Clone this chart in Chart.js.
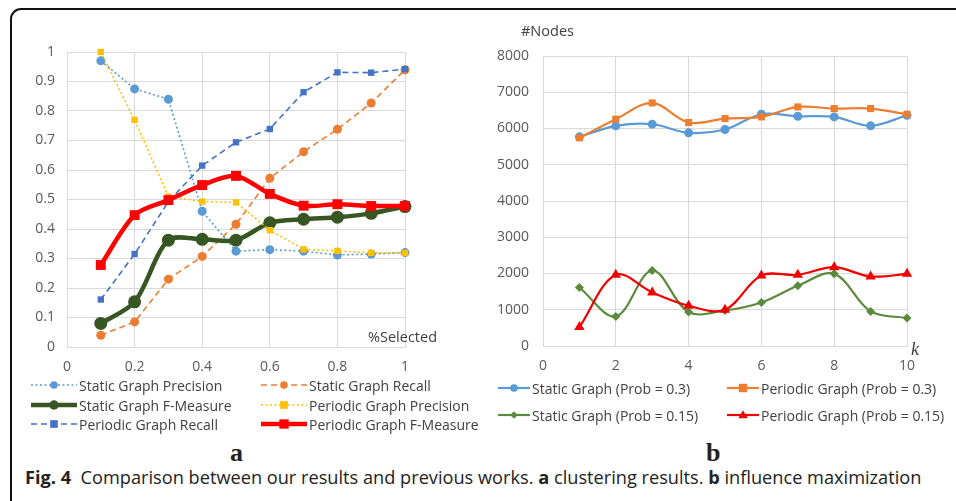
<!DOCTYPE html>
<html>
<head>
<meta charset="utf-8">
<script src="https://cdn.jsdelivr.net/npm/chart.js@4/dist/chart.umd.min.js"></script>
<style>
  html, body { margin: 0; padding: 0; background: #fff; }
  body { width: 956px; height: 501px; position: relative; overflow: hidden; font-family: "Open Sans", "Noto Sans", sans-serif; }
  .frame { position: absolute; left: 10px; top: 8px; width: 1000px; height: 600px; border: 2px solid #111; border-top-left-radius: 11px; box-sizing: border-box; }
  .cv { position: absolute; top: 0; }
  .lbl { position: absolute; color: #404040; white-space: nowrap; line-height: 1; }
  .legend { position: absolute; font-size: 14px; color: #404040; }
  .legend .item { position: absolute; display: flex; align-items: center; white-space: nowrap; height: 18px; }
  .legend svg { display: block; margin-right: 2px; }
  .panel { position: absolute; font-family: "Liberation Serif", "DejaVu Serif", serif; font-weight: bold; font-size: 26px; color: #222; line-height: 1; }
  .caption { position: absolute; left: 25px; top: 467px; font-size: 18.2px; color: #222; white-space: nowrap; font-family: "Open Sans", "Noto Sans", sans-serif; line-height: 1.2; }
  .caption b { font-weight: bold; }
</style>
</head>
<body>
<div class="frame"></div>
<canvas id="ca" class="cv" style="left:0px" width="470" height="380"></canvas>
<canvas id="cb" class="cv" style="left:480px" width="476" height="380"></canvas>

<div class="lbl" style="left:368px; top:330px; font-size:14.5px;">%Selected</div>
<div class="lbl" style="left:521px; top:24px; font-size:14.5px;">#Nodes</div>
<div class="lbl" style="left:911px; top:340px; font-size:18px; font-style:italic; font-family:'Liberation Serif','DejaVu Serif',serif;">k</div>

<div id="legA" class="legend"></div>
<div id="legB" class="legend"></div>

<div class="panel" style="left:230px; top:440px;">a</div>
<div class="panel" style="left:706px; top:440px;">b</div>
<div class="caption"><b>Fig. 4</b>&nbsp; Comparison between our results and previous works. <b>a</b> clustering results. <b>b</b> influence maximization</div>

<script>
// ---------- Panel a data ----------
const selected = [0.1, 0.2, 0.3, 0.4, 0.5, 0.6, 0.7, 0.8, 0.9, 1.0];
const staticPrecision   = [0.97, 0.875, 0.84, 0.46, 0.325, 0.33, 0.325, 0.312, 0.315, 0.32];
const staticRecall      = [0.04, 0.085, 0.23, 0.307, 0.416, 0.572, 0.662, 0.738, 0.827, 0.94];
const staticFMeasure    = [0.08, 0.153, 0.362, 0.365, 0.362, 0.421, 0.433, 0.44, 0.453, 0.476];
const periodicPrecision = [1.0, 0.77, 0.51, 0.493, 0.49, 0.396, 0.331, 0.326, 0.319, 0.319];
const periodicRecall    = [0.161, 0.315, 0.493, 0.615, 0.694, 0.739, 0.864, 0.931, 0.93, 0.942];
const periodicFMeasure  = [0.278, 0.447, 0.498, 0.549, 0.58, 0.519, 0.479, 0.484, 0.478, 0.478];
const seriesNamesA = ["Static Graph Precision", "Static Graph Recall", "Static Graph F-Measure",
                      "Periodic Graph Precision", "Periodic Graph Recall", "Periodic Graph F-Measure"];

// ---------- Panel b data ----------
const kValues = [1, 2, 3, 4, 5, 6, 7, 8, 9, 10];
const staticProb03    = [5770, 6073, 6119, 5880, 5972, 6394, 6339, 6320, 6073, 6366];
const periodicProb03  = [5743, 6257, 6706, 6165, 6275, 6321, 6596, 6550, 6550, 6394];
const staticProb015   = [1614, 816, 2083, 936, 981, 1201, 1660, 1991, 954, 770];
const periodicProb015 = [523, 1963, 1477, 1110, 1000, 1945, 1963, 2175, 1917, 1991];
const seriesNamesB = ["Static Graph (Prob = 0.3)", "Periodic Graph (Prob = 0.3)",
                      "Static Graph (Prob = 0.15)", "Periodic Graph (Prob = 0.15)"];

const ticksA = { min: 0, max: 1, stepY: 0.1, stepX: 0.2 };
const ticksB = { minY: 0, maxY: 8000, stepY: 1000, minX: 0, maxX: 10, stepX: 2 };

const pts = (xs, ys) => xs.map((x, i) => ({ x: x, y: ys[i] }));
const GRID = '#d9d9d9';
const TICKCOL = '#595959';
const TICKFONT = { family: "'Open Sans', 'Noto Sans', sans-serif", size: 14 };
const fmtA = v => String(+Number(v).toFixed(2));
const fmtB = v => String(Math.round(v));

function ds(label, xs, ys, color, width, dash, style, radius, tension, order) {
  return {
    label, data: pts(xs, ys),
    borderColor: color, backgroundColor: color,
    borderWidth: width, borderDash: dash,
    pointStyle: style, pointRadius: radius, pointBorderWidth: 0,
    pointBackgroundColor: color, pointBorderColor: color,
    tension: tension, clip: false, order: order, fill: false
  };
}

const dsA = [
  ds(seriesNamesA[0], selected, staticPrecision,   '#5B9BD5', 1.6, [2, 2.5], 'circle', 4.5, 0, 6),
  ds(seriesNamesA[1], selected, staticRecall,      '#ED7D31', 1.6, [6, 4],   'circle', 4.5, 0, 5),
  ds(seriesNamesA[2], selected, staticFMeasure,    '#375623', 4.5, [],       'circle', 6.5, 0.3, 4),
  ds(seriesNamesA[3], selected, periodicPrecision, '#FFC000', 1.6, [2, 2.5], 'rect',   4.5, 0, 3),
  ds(seriesNamesA[4], selected, periodicRecall,    '#4472C4', 1.6, [6, 4],   'rect',   4.5, 0, 2),
  ds(seriesNamesA[5], selected, periodicFMeasure,  '#FF0000', 4.5, [],       'rect',   7,   0.3, 1)
];

const dsB = [
  ds(seriesNamesB[0], kValues, staticProb03,    '#5B9BD5', 2.2, [], 'circle',   4.5, 0.35, 4),
  ds(seriesNamesB[1], kValues, periodicProb03,  '#ED7D31', 2.2, [], 'rect',     5,   0.35, 3),
  ds(seriesNamesB[2], kValues, staticProb015,   '#5A8A3C', 2.2, [], 'rectRot',  4.5, 0.35, 2),
  ds(seriesNamesB[3], kValues, periodicProb015, '#F00000', 2.2, [], 'triangle', 6,   0.35, 1)
];

function makeChart(id, datasets, pad, yWidth, xHeight, xOpt, yOpt) {
  return new Chart(document.getElementById(id), {
    type: 'line',
    data: { datasets },
    options: {
      responsive: false, animation: false, devicePixelRatio: 1,
      layout: { padding: pad },
      plugins: { legend: { display: false }, tooltip: { enabled: false } },
      scales: {
        x: Object.assign({
          type: 'linear',
          grid: { color: GRID, drawTicks: false, lineWidth: 1 },
          border: { color: GRID },
          afterFit: s => { s.height = xHeight; }
        }, xOpt),
        y: Object.assign({
          type: 'linear',
          grid: { color: GRID, drawTicks: false, lineWidth: 1 },
          border: { color: GRID },
          afterFit: s => { s.width = yWidth; }
        }, yOpt)
      }
    }
  });
}

makeChart('ca', dsA, { top: 52, right: 65, left: 0, bottom: 0 }, 67, 33,
  { min: ticksA.min, max: ticksA.max, ticks: { stepSize: ticksA.stepX, color: TICKCOL, font: TICKFONT, padding: 12, maxRotation: 0, callback: fmtA } },
  { min: ticksA.min, max: ticksA.max, ticks: { stepSize: ticksA.stepY, color: TICKCOL, font: TICKFONT, padding: 12, callback: fmtA } });

makeChart('cb', dsB, { top: 56, right: 49, left: 0, bottom: 0 }, 63, 34,
  { min: ticksB.minX, max: ticksB.maxX, ticks: { stepSize: ticksB.stepX, color: TICKCOL, font: TICKFONT, padding: 12, maxRotation: 0, callback: fmtB } },
  { min: ticksB.minY, max: ticksB.maxY, ticks: { stepSize: ticksB.stepY, color: TICKCOL, font: TICKFONT, padding: 14, callback: fmtB } });

// ---------- HTML legends built from the datasets ----------
function markerSvg(d, w) {
  const h = 16, cy = 8, cx = w / 2;
  const lw = Math.min(d.borderWidth, 4.5);
  const dash = d.borderDash && d.borderDash.length ? `stroke-dasharray="${d.borderDash.join(' ')}"` : '';
  let m = '';
  const r = Math.min(d.pointRadius, 5.5) * 0.85;
  const c = d.borderColor;
  if (d.pointStyle === 'circle') m = `<circle cx="${cx}" cy="${cy}" r="${r}" fill="${c}"/>`;
  else if (d.pointStyle === 'rect') m = `<rect x="${cx - r}" y="${cy - r}" width="${2 * r}" height="${2 * r}" fill="${c}"/>`;
  else if (d.pointStyle === 'rectRot') m = `<polygon points="${cx},${cy - r} ${cx + r},${cy} ${cx},${cy + r} ${cx - r},${cy}" fill="${c}"/>`;
  else if (d.pointStyle === 'triangle') m = `<polygon points="${cx},${cy - r} ${cx + r},${cy + r * 0.7} ${cx - r},${cy + r * 0.7}" fill="${c}"/>`;
  return `<svg width="${w}" height="${h}"><line x1="0" y1="${cy}" x2="${w}" y2="${cy}" stroke="${c}" stroke-width="${lw}" ${dash}/>${m}</svg>`;
}

function buildLegend(elId, datasets, positions, sampleW) {
  const el = document.getElementById(elId);
  datasets.forEach((d, i) => {
    const p = positions[i];
    const it = document.createElement('div');
    it.className = 'item';
    it.style.left = p[0] + 'px';
    it.style.top = (p[1] - 9) + 'px';
    it.innerHTML = markerSvg(d, sampleW) + '<span>' + d.label + '</span>';
    el.appendChild(it);
  });
}

buildLegend('legA', dsA, [[31, 385], [261, 385], [31, 405], [261, 405], [31, 424], [261, 424]], 46);
buildLegend('legB', dsB, [[498, 388], [727, 388], [498, 415], [727, 415]], 32);
</script>
</body>
</html>
